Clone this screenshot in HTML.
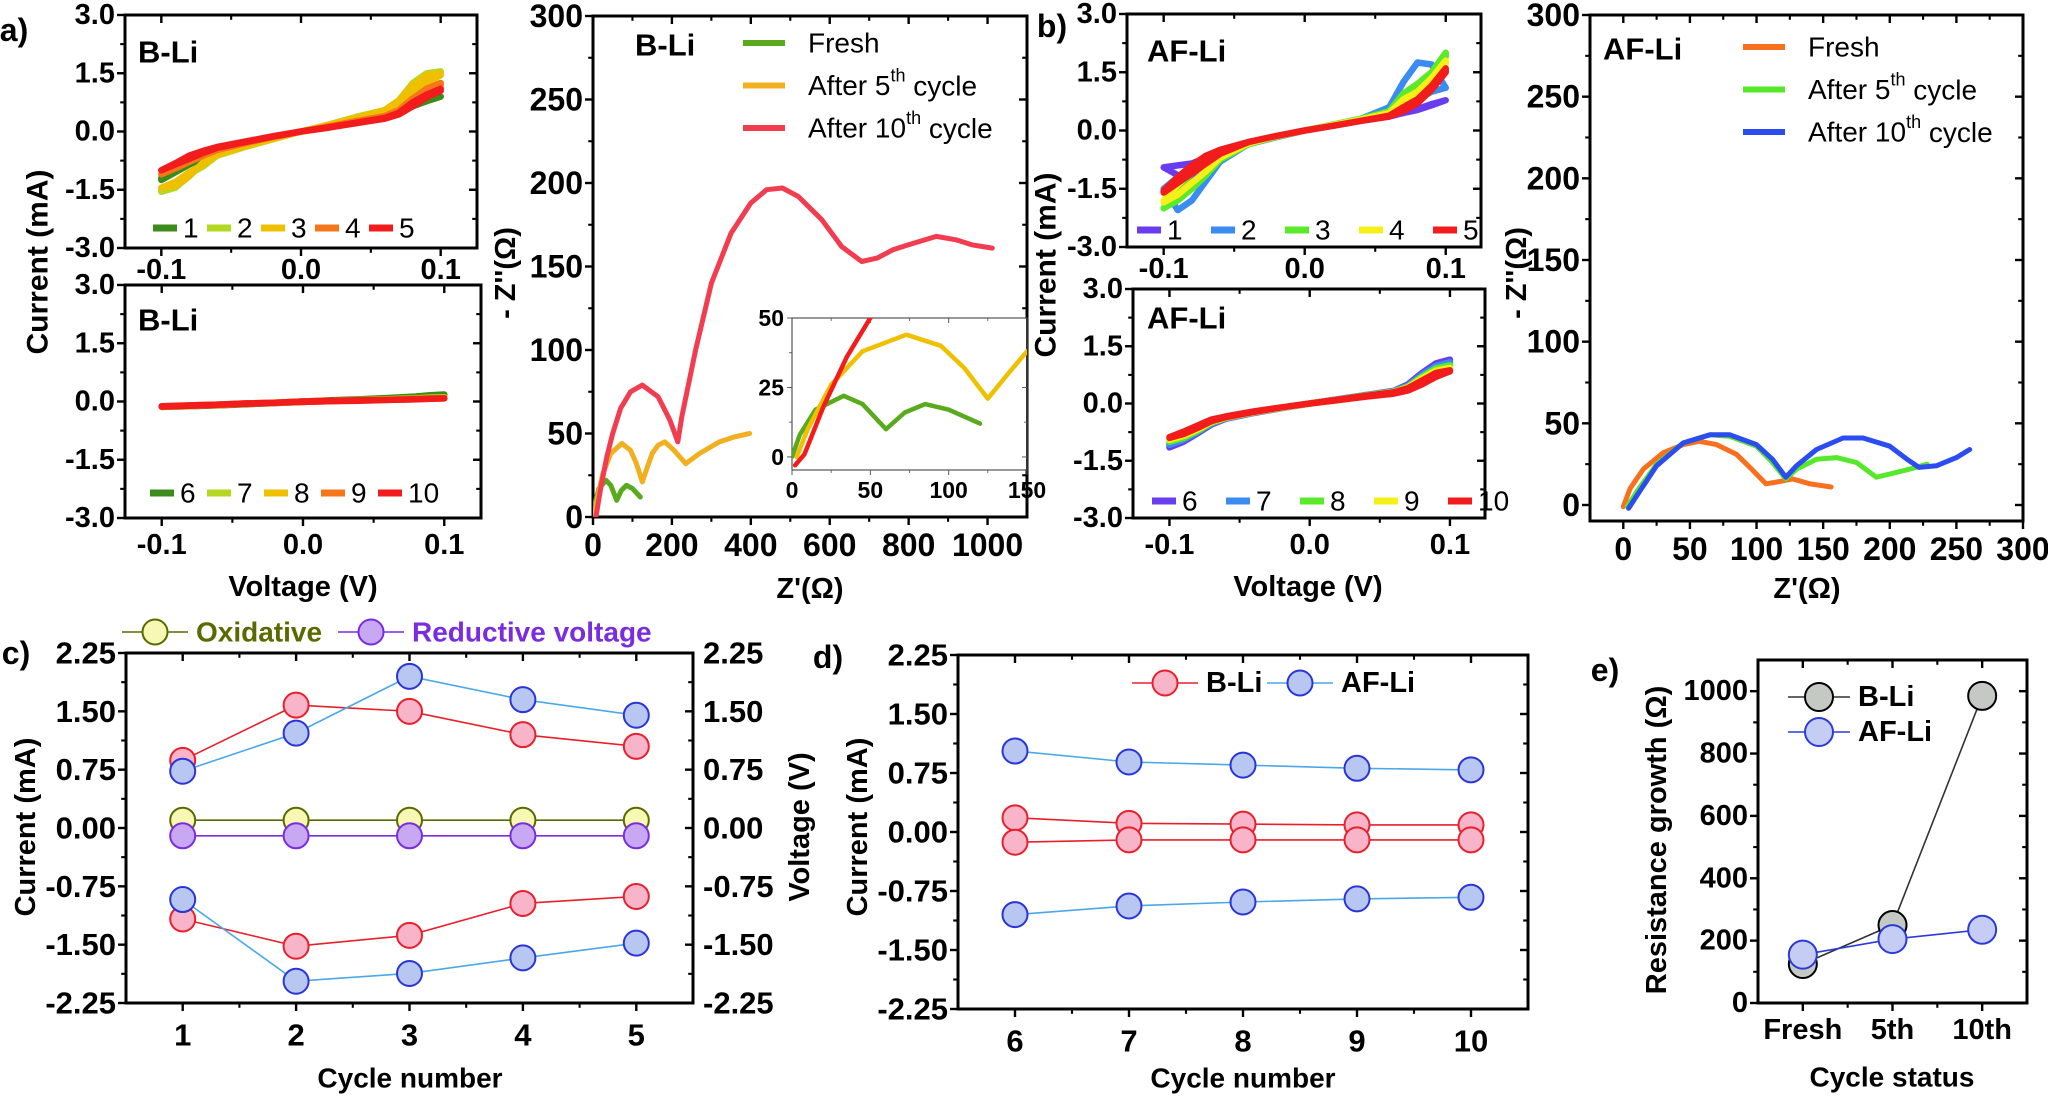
<!DOCTYPE html>
<html><head><meta charset="utf-8"><style>
html,body{margin:0;padding:0;background:#fff}
svg{display:block;font-family:"Liberation Sans",Arial,sans-serif}
</style></head><body>
<svg id="fig" width="2048" height="1096" viewBox="0 0 2048 1096" xmlns="http://www.w3.org/2000/svg"></svg>
<script>
// ---------- DATA ----------
const cvV = [-0.1,-0.09,-0.08,-0.07,-0.06,-0.04,-0.02,0,0.02,0.04,0.06,0.07,0.08,0.09,0.1];
const bli1f=[-1.25,-1.05,-0.85,-0.7,-0.55,-0.35,-0.17,0,0.15,0.3,0.45,0.55,0.65,0.78,0.9];
const bli1r=[-1.2,-1.0,-0.8,-0.65,-0.52,-0.33,-0.16,0,0.14,0.28,0.42,0.55,0.68,0.8,0.9];
const bli2f=[-1.55,-1.45,-1.15,-0.8,-0.6,-0.38,-0.18,0,0.17,0.35,0.55,0.8,1.25,1.5,1.55];
const bli2r=[-1.5,-1.35,-1.1,-0.9,-0.62,-0.4,-0.2,0,0.18,0.38,0.55,0.72,1.05,1.3,1.5];
const bli3f=[-1.45,-1.4,-1.15,-0.8,-0.58,-0.36,-0.17,0,0.17,0.35,0.55,0.8,1.2,1.45,1.5];
const bli3r=[-1.45,-1.3,-1.05,-0.85,-0.6,-0.38,-0.19,0,0.17,0.36,0.52,0.7,1.0,1.25,1.45];
const bli4f=[-1.1,-0.95,-0.78,-0.62,-0.48,-0.3,-0.14,0,0.13,0.27,0.4,0.55,0.85,1.1,1.25];
const bli4r=[-1.1,-0.92,-0.75,-0.6,-0.47,-0.3,-0.14,0,0.12,0.26,0.38,0.5,0.75,0.98,1.2];
const bli5f=[-1.0,-0.82,-0.62,-0.5,-0.4,-0.26,-0.12,0,0.11,0.23,0.35,0.48,0.75,0.95,1.1];
const bli5r=[-1.0,-0.85,-0.7,-0.55,-0.42,-0.27,-0.13,0,0.1,0.22,0.33,0.44,0.65,0.88,1.05];
const bli6f=[-0.13,-0.12,-0.11,-0.1,-0.09,-0.06,-0.03,0,0.03,0.06,0.09,0.11,0.13,0.16,0.18];
const bli6r=[-0.14,-0.13,-0.12,-0.11,-0.1,-0.07,-0.04,-0.01,0.02,0.05,0.08,0.1,0.12,0.15,0.17];
const bli7f=[-0.13,-0.12,-0.11,-0.1,-0.08,-0.06,-0.03,0,0.02,0.04,0.06,0.07,0.08,0.1,0.11];
const bli7r=[-0.14,-0.13,-0.12,-0.1,-0.09,-0.06,-0.03,-0.01,0.02,0.04,0.05,0.06,0.08,0.09,0.1];
const bli8f=[-0.13,-0.12,-0.1,-0.09,-0.08,-0.06,-0.03,0,0.02,0.03,0.05,0.06,0.07,0.08,0.09];
const bli8r=[-0.14,-0.12,-0.11,-0.1,-0.09,-0.06,-0.03,-0.01,0.01,0.03,0.05,0.06,0.07,0.08,0.09];
const bli9f=[-0.13,-0.12,-0.1,-0.09,-0.08,-0.05,-0.03,0,0.02,0.03,0.05,0.06,0.07,0.08,0.09];
const bli9r=[-0.14,-0.12,-0.11,-0.1,-0.09,-0.06,-0.03,-0.01,0.01,0.03,0.04,0.05,0.06,0.07,0.08];
const bli10f=[-0.12,-0.11,-0.1,-0.09,-0.08,-0.05,-0.03,0,0.02,0.03,0.04,0.05,0.06,0.07,0.08];
const bli10r=[-0.13,-0.12,-0.11,-0.1,-0.08,-0.06,-0.03,-0.01,0.01,0.02,0.04,0.05,0.06,0.07,0.08];
const af1f=[-0.95,-0.9,-0.85,-0.7,-0.5,-0.3,-0.15,0,0.13,0.26,0.38,0.45,0.53,0.65,0.78];
const af1r=[-0.95,-1.15,-1.3,-1.0,-0.6,-0.35,-0.17,0,0.12,0.25,0.36,0.45,0.55,0.68,0.78];
const af2f=[-1.5,-2.05,-1.8,-1.3,-0.8,-0.35,-0.17,0,0.15,0.3,0.6,1.25,1.75,1.7,1.1];
const af2r=[-1.5,-1.2,-0.95,-0.75,-0.55,-0.32,-0.16,0,0.14,0.28,0.45,0.6,0.8,1.0,1.1];
const af3f=[-2.0,-1.8,-1.5,-1.15,-0.75,-0.35,-0.16,0,0.15,0.3,0.5,0.95,1.2,1.5,2.0];
const af3r=[-2.0,-1.5,-1.1,-0.85,-0.6,-0.33,-0.16,0,0.14,0.28,0.42,0.6,0.95,1.45,1.9];
const af4f=[-1.85,-1.65,-1.35,-1.05,-0.7,-0.33,-0.15,0,0.14,0.28,0.45,0.8,1.0,1.35,1.8];
const af4r=[-1.8,-1.4,-1.05,-0.8,-0.58,-0.32,-0.15,0,0.13,0.27,0.4,0.55,0.8,1.3,1.7];
const af5f=[-1.6,-1.35,-1.1,-0.85,-0.6,-0.3,-0.14,0,0.12,0.25,0.38,0.6,0.8,1.15,1.6];
const af5r=[-1.55,-1.2,-0.9,-0.65,-0.5,-0.3,-0.14,0,0.12,0.25,0.36,0.5,0.7,1.05,1.5];
const af6f=[-1.15,-1.0,-0.78,-0.55,-0.4,-0.25,-0.12,0,0.11,0.22,0.33,0.5,0.8,1.05,1.15];
const af6r=[-1.1,-0.9,-0.7,-0.5,-0.38,-0.24,-0.12,0,0.1,0.2,0.3,0.42,0.65,0.9,1.1];
const af7f=[-1.08,-0.95,-0.75,-0.53,-0.39,-0.24,-0.12,0,0.11,0.22,0.32,0.47,0.75,0.98,1.08];
const af7r=[-1.05,-0.86,-0.67,-0.48,-0.37,-0.23,-0.11,0,0.1,0.2,0.29,0.4,0.6,0.85,1.03];
const af8f=[-1.0,-0.9,-0.72,-0.5,-0.38,-0.23,-0.11,0,0.1,0.21,0.31,0.44,0.7,0.92,1.0];
const af8r=[-0.98,-0.82,-0.64,-0.46,-0.36,-0.22,-0.11,0,0.1,0.19,0.28,0.38,0.56,0.8,0.96];
const af9f=[-0.95,-0.85,-0.68,-0.48,-0.37,-0.23,-0.11,0,0.1,0.2,0.3,0.42,0.66,0.86,0.93];
const af9r=[-0.93,-0.78,-0.61,-0.44,-0.35,-0.22,-0.11,0,0.09,0.19,0.27,0.36,0.53,0.76,0.9];
const af10f=[-0.9,-0.8,-0.64,-0.46,-0.36,-0.22,-0.1,0,0.1,0.2,0.29,0.4,0.6,0.8,0.87];
const af10r=[-0.88,-0.74,-0.58,-0.42,-0.34,-0.21,-0.1,0,0.09,0.18,0.26,0.34,0.5,0.7,0.84];
const bFreshRe=[0,5,15,33,45,60,72,85,100,120];
const bFreshIm=[0,8,17,22,19,10,16,19,17,12];
const b5Re=[3,10,25,45,73,95,110,125,138,150,165,182,205,235,270,320,360,397];
const b5Im=[0,10,26,38,44,40,32,21,30,38,43,45,40,32,38,45,48,50];
const b10Re=[2,8,20,35,50,70,95,125,165,195,215,225,260,300,350,400,440,480,520,580,630,681,720,760,800,870,920,960,1012];
const b10Im=[-3,1,18,36,50,65,75,79,72,58,45,60,100,140,170,188,196,197,192,178,162,153,155,160,163,168,166,163,161];
const aFreshRe=[0,5,15,30,45,57,70,85,95,107,115,127,140,156];
const aFreshIm=[-1,10,22,32,37,39,37,31,23,13,14,16,13,11];
const a5Re=[3,10,25,45,65,80,100,112,122,130,145,160,175,190,200,215,228];
const a5Im=[-1,8,25,38,43,42,36,26,16,22,28,29,26,17,19,22,25];
const a10Re=[4,12,25,45,65,80,100,112,122,130,145,165,180,200,213,222,235,250,260];
const a10Im=[-2,8,24,38,43,43,37,28,17,24,34,41,41,36,28,23,24,29,34];
const cCycles=[1,2,3,4,5];
const cBOx=[0.87,1.58,1.50,1.20,1.05];
const cBRed=[-1.17,-1.52,-1.38,-0.97,-0.88];
const cAOx=[0.73,1.22,1.95,1.65,1.45];
const cARed=[-0.92,-1.97,-1.87,-1.67,-1.48];
const cOxV=[0.1,0.1,0.1,0.1,0.1];
const cRedV=[-0.1,-0.1,-0.1,-0.1,-0.1];
const dCycles=[6,7,8,9,10];
const dBOx=[0.18,0.11,0.10,0.09,0.09];
const dBRed=[-0.13,-0.10,-0.10,-0.10,-0.10];
const dAOx=[1.03,0.89,0.85,0.81,0.79];
const dARed=[-1.05,-0.94,-0.89,-0.85,-0.83];
const eCats=['Fresh','5th','10th'];
const eB=[125,250,985];
const eA=[155,205,235];
const cTicks=['-2.25','-1.50','-0.75','0.00','0.75','1.50','2.25'];

// ---------- HELPERS ----------
const NS='http://www.w3.org/2000/svg';
const svg=document.getElementById('fig');
function mk(tag,attrs,parent){const e=document.createElementNS(NS,tag);for(const k in attrs)e.setAttribute(k,attrs[k]);(parent||svg).appendChild(e);return e;}
function txt(s,x,y,size,opts,parent){opts=opts||{};const t=mk('text',{x:x,y:y,'font-size':size,'font-weight':opts.w||'bold','text-anchor':opts.a||'middle','dominant-baseline':'central',fill:opts.fill||'#000'},parent);if(opts.rot)t.setAttribute('transform','rotate(-90 '+x+' '+y+')');t.textContent=s;return t;}
function lin(d0,d1,r0,r1){return v=>r0+(v-d0)*(r1-r0)/(d1-d0);}

function axes(name,x0,x1,y0,y1,xd,yd,xt,yt,xlab,ylab,fs,opt){
  opt=opt||{};
  const g=mk('g',{});
  
  
  const sx=lin(xd[0],xd[1],x0,x1), sy=lin(yd[0],yd[1],y1,y0);
  const sw=opt.sw||3, col=opt.col||'#000';
  const fr=mk('rect',{x:x0,y:y0,width:x1-x0,height:y1-y0,fill:'none',stroke:col,'stroke-width':sw},g);
  
  
  const tl=opt.tl||8;
  xt.forEach((v,i)=>{const x=sx(v);
    mk('line',{x1:x,x2:x,y1:y1,y2:y1+tl,stroke:col,'stroke-width':sw*0.8},g);
    mk('line',{x1:x,x2:x,y1:y0,y2:y0+tl,stroke:col,'stroke-width':sw*0.8},g);
    if(xlab){const t=txt(xlab[i],x,y1+(opt.xoff||27),fs,{},g);
      
      }
    if(i<xt.length-1){const m=sx((v+xt[i+1])/2);
      mk('line',{x1:m,x2:m,y1:y1,y2:y1+tl*0.6,stroke:col,'stroke-width':sw*0.7},g);
      mk('line',{x1:m,x2:m,y1:y0,y2:y0+tl*0.6,stroke:col,'stroke-width':sw*0.7},g);}
  });
  yt.forEach((v,i)=>{const y=sy(v);
    mk('line',{x1:x0-tl,x2:x0,y1:y,y2:y,stroke:col,'stroke-width':sw*0.8},g);
    mk('line',{x1:x1-tl,x2:x1,y1:y,y2:y,stroke:col,'stroke-width':sw*0.8},g);
    if(ylab){const t=txt(ylab[i],x0-(opt.yoff||10),y,fs,{a:'end'},g);
      
      }
    if(opt.rlab){const t=txt(opt.rlab[i],x1+10,y,fs,{a:'start'},g);
      
      }
    if(i<yt.length-1){const m=sy((v+yt[i+1])/2);
      mk('line',{x1:x0-tl*0.6,x2:x0,y1:m,y2:m,stroke:col,'stroke-width':sw*0.7},g);
      mk('line',{x1:x1-tl*0.6,x2:x1,y1:m,y2:m,stroke:col,'stroke-width':sw*0.7},g);}
  });
  return {sx,sy,g};
}
function pathD(xs,ys,sx,sy){return xs.map((v,i)=>(i?'L':'M')+sx(v).toFixed(1)+','+sy(ys[i]).toFixed(1)).join(' ');}
let clipN=0;
function clip(x0,y0,x1,y1){const id='cl'+(clipN++);const c=mk('clipPath',{id:id});mk('rect',{x:x0,y:y0,width:x1-x0,height:y1-y0},c);return 'url(#'+id+')';}
function cvLoop(ax,f,r,color,name,cp){
  const xs=cvV.concat(cvV.slice().reverse());
  const ys=f.concat(r.slice().reverse());
  const p=mk('path',{d:pathD(xs,ys,ax.sx,ax.sy)+' Z',fill:'none',stroke:color,'stroke-width':6.5,'stroke-linejoin':'round','clip-path':cp});
  
  
}
function cvLegend(x,y,sp,labels,colors,fs,name){
  labels.forEach((l,i)=>{
    const ln=mk('line',{x1:x+i*sp,x2:x+i*sp+24,y1:y,y2:y,stroke:colors[i],'stroke-width':7});
    
    
    const t=txt(l,x+i*sp+30,y,fs,{w:'normal',a:'start'});
    
    
  });
}
function eisSeries(ax,re,im,color,name,cp,w){
  const p=mk('path',{d:pathD(re,im,ax.sx,ax.sy),fill:'none',stroke:color,'stroke-width':w||5,'stroke-linejoin':'round','stroke-linecap':'round','clip-path':cp});
  
  
}
function eisLegend(x,y,lines,colors,name){
  lines.forEach((l,i)=>{
    const yy=y+i*42.5;
    const ln=mk('line',{x1:x,x2:x+42,y1:yy,y2:yy,stroke:colors[i],'stroke-width':6});
    
    
    const t=mk('text',{x:x+65,y:yy,'font-size':28,'dominant-baseline':'central'});
    
    
    if(l[1]){t.appendChild(document.createTextNode(l[0]));const s=mk('tspan',{'font-size':18,dy:-10},t);s.textContent=l[1];const s2=mk('tspan',{dy:10},t);s2.textContent=l[2];}
    else t.textContent=l[0];
  });
}
function scatter(ax,xs,ys,line,fill,stroke,r,name,lw){
  const p=mk('path',{d:pathD(xs,ys,ax.sx,ax.sy),fill:'none',stroke:line,'stroke-width':lw||1.6});
  
  
  xs.forEach((v,i)=>{const c=mk('circle',{cx:ax.sx(v),cy:ax.sy(ys[i]),r:r,fill:fill,stroke:stroke,'stroke-width':2});
    
    });
}
function legendMarker(x,y,line,fill,stroke,r,label,color,fs,name,len){
  len=len||66;
  const l=mk('line',{x1:x,x2:x+len,y1:y,y2:y,stroke:line,'stroke-width':1.6});
  
  
  const c=mk('circle',{cx:x+len/2,cy:y,r:r,fill:fill,stroke:stroke,'stroke-width':2});
  
  
  const t=txt(label,x+len+8,y,fs,{a:'start',fill:color});
  
  
}
function label(s,x,y,fs,name,opts){const t=txt(s,x,y,fs,opts||{});return t;}

const cvTicksY=[-3,-1.5,0,1.5,3], cvTickLab=['-3.0','-1.5','0.0','1.5','3.0'];
const cvTicksX=[-0.1,0,0.1], cvTickLabX=['-0.1','0.0','0.1'];
const bliCols=['#3c8c1c','#b4d822','#eec000','#f6761a','#f21c1c'];
const afCols=['#6a3cf0','#3a8cf2','#5aea2a','#f6f018','#f21c1c'];

// ---------- PANEL a ----------
const aT=axes('cv-bli-1to5',125,477,15,248,[-0.126,0.126],[-3,3],cvTicksX,cvTicksY,cvTickLabX,cvTickLab,29,{xoff:22});
const cpA1=clip(125,15,477,248);
[[bli1f,bli1r],[bli2f,bli2r],[bli3f,bli3r],[bli4f,bli4r],[bli5f,bli5r]].forEach((c,i)=>cvLoop(aT,c[0],c[1],bliCols[i],'cv-bli-cycle-'+(i+1),cpA1));
cvLegend(153,228,54,['1','2','3','4','5'],bliCols,28,'legend-bli-1to5');
label('B-Li',138,52,31,'panel-title-bli-top',{a:'start'});
const aB=axes('cv-bli-6to10',125,481,285,518,[-0.126,0.126],[-3,3],cvTicksX,cvTicksY,cvTickLabX,cvTickLab,29,{xoff:27});
const cpA2=clip(125,285,481,518);
[[bli6f,bli6r],[bli7f,bli7r],[bli8f,bli8r],[bli9f,bli9r],[bli10f,bli10r]].forEach((c,i)=>cvLoop(aB,c[0],c[1],bliCols[i],'cv-bli-cycle-'+(i+6),cpA2));
cvLegend(150,493,57,['6','7','8','9','10'],bliCols,28,'legend-bli-6to10');
label('B-Li',138,320,31,'panel-title-bli-bottom',{a:'start'});
label('Voltage (V)',303,587,29,'x-axis-title-a');
label('Current (mA)',38,262,30,'y-axis-title-a',{rot:1});
label('a)',14,30,32,'panel-label-a');

// ---------- EIS B-Li ----------
const eisB=axes('eis-bli',593,1027,16,517,[0,1100],[0,300],[0,200,400,600,800,1000],[0,50,100,150,200,250,300],['0','200','400','600','800','1000'],['0','50','100','150','200','250','300'],32,{xoff:28});
const cpE1=clip(593,16,1027,517);
eisSeries(eisB,bFreshRe,bFreshIm,'#5aaa1e','eis-bli-fresh',cpE1);
eisSeries(eisB,b5Re,b5Im,'#f0b020','eis-bli-after5',cpE1);
eisSeries(eisB,b10Re,b10Im,'#f23c50','eis-bli-after10',cpE1);
const ins=axes('eis-bli-inset',792,1027,318,470,[0,150],[-4.7,50],[0,50,100,150],[0,25,50],['0','50','100','150'],['0','25','50'],23,{sw:1.2,col:'#555',tl:5,xoff:20,yoff:8});
mk('rect',{x:793,y:319,width:233,height:150,fill:'#fff'},ins.g);
ins.g.insertBefore(ins.g.lastChild,ins.g.firstChild);
const cpI=clip(792,318,1027,470);
eisSeries(ins,bFreshRe,bFreshIm,'#5aaa1e','inset-bli-fresh',cpI,4.5);
eisSeries(ins,b5Re,b5Im,'#eec000','inset-bli-after5',cpI,4.5);
eisSeries(ins,b10Re,b10Im,'#f21c1c','inset-bli-after10',cpI,4.5);
label('B-Li',635,45,31,'panel-title-eis-bli',{a:'start'});
eisLegend(743,43,[['Fresh'],['After 5','th',' cycle'],['After 10','th',' cycle']],['#5aaa1e','#f0b020','#f23c50'],'legend-eis-bli');
label("Z'(\u03A9)",810,589,29,'x-axis-title-eis-bli');
label("- Z''(\u03A9)",506,273,29,'y-axis-title-eis-bli',{rot:1});

// ---------- PANEL b ----------
const bT=axes('cv-afli-1to5',1127,1481,14,247,[-0.126,0.125],[-3,3],cvTicksX,cvTicksY,cvTickLabX,cvTickLab,29,{xoff:22});
const cpB1=clip(1127,14,1481,247);
[[af1f,af1r],[af2f,af2r],[af3f,af3r],[af4f,af4r],[af5f,af5r]].forEach((c,i)=>cvLoop(bT,c[0],c[1],afCols[i],'cv-afli-cycle-'+(i+1),cpB1));
cvLegend(1137,230,74,['1','2','3','4','5'],afCols,28,'legend-afli-1to5');
label('AF-Li',1147,51,31,'panel-title-afli-top',{a:'start'});
const bB=axes('cv-afli-6to10',1133,1485,289,518,[-0.126,0.125],[-3,3],cvTicksX,cvTicksY,cvTickLabX,cvTickLab,29,{xoff:27});
const cpB2=clip(1133,289,1485,518);
[[af6f,af6r],[af7f,af7r],[af8f,af8r],[af9f,af9r],[af10f,af10r]].forEach((c,i)=>cvLoop(bB,c[0],c[1],afCols[i],'cv-afli-cycle-'+(i+6),cpB2));
cvLegend(1152,501,74,['6','7','8','9','10'],afCols,28,'legend-afli-6to10');
label('AF-Li',1147,318,31,'panel-title-afli-bottom',{a:'start'});
label('Voltage (V)',1308,587,29,'x-axis-title-b');
label('Current (mA)',1046,265,30,'y-axis-title-b',{rot:1});
label('b)',1052,26,32,'panel-label-b');

// ---------- EIS AF-Li ----------
const eisA=axes('eis-afli',1590,2023,15,521,[-25,300],[-9.8,300],[0,50,100,150,200,250,300],[0,50,100,150,200,250,300],['0','50','100','150','200','250','300'],['0','50','100','150','200','250','300'],32,{xoff:28});
const cpE2=clip(1590,15,2023,521);
eisSeries(eisA,aFreshRe,aFreshIm,'#f8701e','eis-afli-fresh',cpE2);
eisSeries(eisA,a5Re,a5Im,'#56e82a','eis-afli-after5',cpE2);
eisSeries(eisA,a10Re,a10Im,'#2a4cf0','eis-afli-after10',cpE2);
label('AF-Li',1603,49,31,'panel-title-eis-afli',{a:'start'});
eisLegend(1743,47,[['Fresh'],['After 5','th',' cycle'],['After 10','th',' cycle']],['#f8701e','#56e82a','#2a4cf0'],'legend-eis-afli');
label("Z'(\u03A9)",1807,589,29,'x-axis-title-eis-afli');
label("- Z''(\u03A9)",1517,273,29,'y-axis-title-eis-afli',{rot:1});

// ---------- PANEL c ----------
const cAx=axes('peak-current-1to5',126,693,653,1003,[0.5,5.5],[-2.25,2.25],cCycles,[-2.25,-1.5,-0.75,0,0.75,1.5,2.25],cCycles.map(String),cTicks,31,{rlab:cTicks,xoff:32});
scatter(cAx,cCycles,cOxV,'#5a6a00','#f6f8b4','#5a6a00',12.5,'c-oxidative-voltage');
scatter(cAx,cCycles,cRedV,'#7a2ce0','#c8a8f2','#7a2ce0',12.5,'c-reductive-voltage');
scatter(cAx,cCycles,cBOx,'#e8202c','#f8b4c8','#e8202c',12.5,'c-bli-oxidative');
scatter(cAx,cCycles,cBRed,'#e8202c','#f8b4c8','#e8202c',12.5,'c-bli-reductive');
scatter(cAx,cCycles,cAOx,'#4aa8e8','#b8c6f2','#2a35d8',12.5,'c-afli-oxidative');
scatter(cAx,cCycles,cARed,'#4aa8e8','#b8c6f2','#2a35d8',12.5,'c-afli-reductive');
legendMarker(122,632,'#5a6a00','#f6f8b4','#5a6a00',12.5,'Oxidative','#5a6a00',28,'legend-oxidative');
legendMarker(338,632,'#7a2ce0','#c8a8f2','#7a2ce0',12.5,'Reductive voltage','#7a2ce0',28,'legend-reductive');
label('Cycle number',410,1078,28,'x-axis-title-c');
label('Current (mA)',26,827,29,'y-axis-title-c',{rot:1});
label('Voltage (V)',800,827,29,'y-axis-right-title-c',{rot:1});
label('c)',16,653,32,'panel-label-c');

// ---------- PANEL d ----------
const dAx=axes('peak-current-6to10',958,1528,655,1009,[5.5,10.5],[-2.25,2.25],dCycles,[-2.25,-1.5,-0.75,0,0.75,1.5,2.25],dCycles.map(String),cTicks,31,{xoff:32});
scatter(dAx,dCycles,dBOx,'#e8202c','#f8b4c8','#e8202c',12.5,'d-bli-oxidative');
scatter(dAx,dCycles,dBRed,'#e8202c','#f8b4c8','#e8202c',12.5,'d-bli-reductive');
scatter(dAx,dCycles,dAOx,'#4aa8e8','#b8c6f2','#2a35d8',12.5,'d-afli-oxidative');
scatter(dAx,dCycles,dARed,'#4aa8e8','#b8c6f2','#2a35d8',12.5,'d-afli-reductive');
legendMarker(1132,683,'#e8202c','#f8b4c8','#e8202c',12.5,'B-Li','#000',29,'legend-d-bli');
legendMarker(1267,683,'#4aa8e8','#b8c6f2','#2a35d8',12.5,'AF-Li','#000',29,'legend-d-afli');
label('Cycle number',1243,1078,28,'x-axis-title-d');
label('Current (mA)',858,827,29,'y-axis-title-d',{rot:1});
label('d)',828,657,32,'panel-label-d');

// ---------- PANEL e ----------
const eIdx=eCats.map((c,i)=>i);
const eAx=axes('resistance-growth',1758,2027,660,1003,[-0.5,2.5],[0,1100],eIdx,[0,200,400,600,800,1000],eCats,['0','200','400','600','800','1000'],29,{xoff:27});
scatter(eAx,eIdx,eB,'#333','#c4c9c4','#000',14,'e-bli');
scatter(eAx,eIdx,eA,'#2b3bd8','#c5cdf5','#2b3bd8',14,'e-afli');
legendMarker(1788,697,'#333','#c4c9c4','#000',14,'B-Li','#000',29,'legend-e-bli',62);
legendMarker(1788,732,'#2b3bd8','#c5cdf5','#2b3bd8',14,'AF-Li','#000',29,'legend-e-afli',62);
label('Cycle status',1892,1077,28,'x-axis-title-e');
label('Resistance growth (\u03A9)',1657,840,29,'y-axis-title-e',{rot:1});
label('e)',1605,670,32,'panel-label-e');
</script>
</body></html>
